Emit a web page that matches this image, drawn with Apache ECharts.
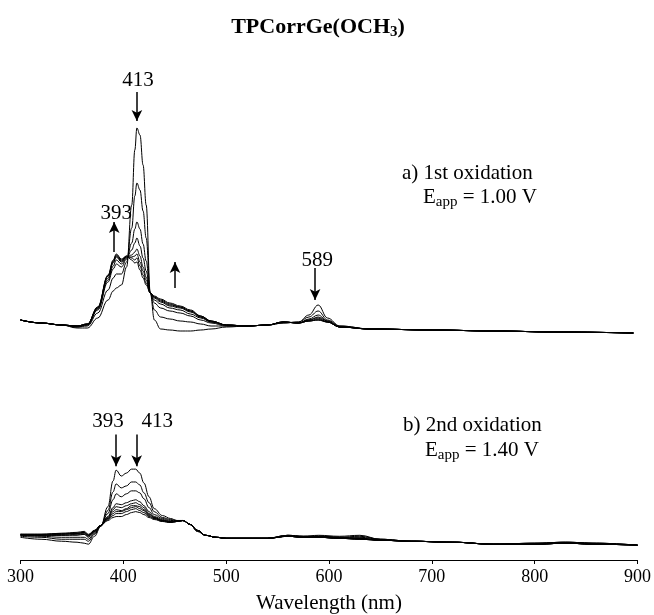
<!DOCTYPE html>
<html lang="en">
<head>
<meta charset="UTF-8">
<title>TPCorrGe(OCH3)</title>
<script src="https://cdn.jsdelivr.net/npm/echarts@6/dist/echarts.min.js"></script>
<style>
  *{margin:0;padding:0;}
  body{background:#fff;}
  #chart{width:654px;height:615px;}
</style>
</head>
<body>
<div id="chart"></div>
<script type="text/javascript">
// wavelengths (nm) sampled for the 1st oxidation spectra
var waveA = [300,320,340,355,365,375,385,390,393,398,403,408,411,413,416,419,422,426,430,436,445,455,465,475,485,500,520,540,555,570,580,589,598,610,640,700,760,820,895];
// a) 1st oxidation, first (neutral) to last spectrum
var a0 = [.15,.12,.10,.07,.07,.17,.35,.44,.47,.50,.68,1.30,1.85,2.07,2.00,1.70,1.30,.42,.15,.06,.05,.04,.04,.05,.06,.08,.09,.10,.12,.13,.20,.30,.17,.09,.06,.05,.04,.03,.02];
var a1 = [.15,.12,.10,.08,.09,.22,.45,.57,.61,.61,.73,1.07,1.39,1.52,1.45,1.24,.97,.42,.25,.18,.16,.14,.13,.11,.09,.09,.09,.10,.12,.13,.18,.24,.15,.09,.06,.05,.04,.03,.02];
var a2 = [.15,.12,.10,.08,.10,.25,.53,.66,.71,.68,.76,.92,1.06,1.13,1.06,.91,.74,.42,.32,.27,.24,.22,.19,.15,.12,.09,.09,.10,.13,.12,.16,.20,.14,.08,.06,.05,.04,.03,.02];
var a3 = [.15,.12,.10,.09,.10,.26,.55,.69,.75,.71,.77,.85,.92,.97,.89,.77,.64,.42,.35,.31,.27,.25,.21,.17,.13,.10,.09,.10,.13,.12,.15,.18,.14,.08,.06,.05,.04,.03,.02];
var a4 = [.15,.12,.10,.09,.11,.27,.57,.72,.78,.73,.78,.80,.83,.86,.79,.68,.58,.42,.37,.33,.29,.27,.23,.18,.13,.10,.09,.10,.13,.12,.15,.17,.13,.08,.06,.05,.04,.03,.02];
var a5 = [.15,.12,.10,.09,.11,.27,.59,.73,.79,.74,.78,.78,.79,.81,.73,.64,.55,.42,.38,.34,.30,.28,.24,.18,.14,.10,.09,.10,.13,.12,.14,.16,.13,.08,.06,.05,.04,.03,.02];
var a6 = [.15,.12,.10,.09,.11,.28,.59,.74,.80,.75,.79,.77,.75,.77,.69,.60,.52,.42,.38,.35,.31,.28,.24,.19,.14,.10,.09,.10,.13,.12,.14,.15,.13,.08,.06,.05,.04,.03,.02];
var a7 = [.15,.12,.10,.09,.11,.28,.60,.75,.81,.76,.79,.75,.72,.73,.65,.57,.50,.42,.39,.36,.32,.29,.25,.19,.14,.10,.09,.10,.13,.12,.14,.15,.13,.08,.06,.05,.04,.03,.02];

// wavelengths (nm) sampled for the 2nd oxidation spectra
var waveB = [300,320,340,355,362,366,372,378,385,390,393,398,403,408,412,416,420,425,430,438,446,452,458,465,472,480,490,500,520,540,560,575,590,610,630,650,680,720,760,800,830,860,900];
// b) 2nd oxidation, first to last spectrum
var b0 = [.23,.21,.19,.18,.17,.16,.24,.34,.54,.80,.91,.85,.88,.92,.92,.88,.78,.64,.52,.45,.42,.40,.40,.36,.29,.25,.23,.22,.22,.22,.25,.24,.25,.24,.25,.21,.19,.18,.16,.17,.18,.17,.15];
var b1 = [.24,.23,.21,.21,.21,.19,.26,.34,.50,.69,.77,.73,.75,.79,.79,.76,.68,.58,.49,.43,.41,.40,.40,.36,.29,.25,.23,.22,.22,.22,.25,.24,.24,.23,.24,.21,.19,.18,.16,.17,.18,.17,.15];
var b2 = [.25,.24,.23,.23,.23,.21,.27,.35,.47,.61,.67,.64,.67,.70,.70,.68,.62,.53,.46,.42,.40,.40,.40,.36,.30,.25,.23,.22,.22,.22,.25,.24,.24,.23,.23,.21,.19,.18,.16,.17,.18,.17,.15];
var b3 = [.25,.25,.25,.25,.26,.23,.28,.35,.44,.53,.57,.56,.58,.60,.61,.59,.55,.49,.44,.41,.39,.39,.40,.36,.30,.25,.23,.22,.22,.22,.24,.23,.24,.23,.22,.20,.19,.18,.16,.16,.17,.16,.15];
var b4 = [.25,.25,.25,.26,.26,.24,.29,.35,.43,.51,.54,.53,.55,.57,.58,.56,.53,.47,.43,.40,.39,.39,.40,.36,.30,.25,.23,.22,.22,.22,.24,.23,.23,.22,.22,.20,.19,.18,.16,.16,.17,.16,.15];
var b5 = [.26,.25,.26,.27,.27,.25,.29,.35,.42,.49,.51,.50,.52,.55,.55,.54,.51,.46,.43,.40,.39,.39,.40,.36,.30,.25,.23,.22,.22,.22,.24,.23,.23,.22,.22,.20,.19,.18,.16,.16,.17,.16,.15];
var b6 = [.26,.26,.26,.27,.28,.25,.29,.35,.42,.47,.49,.49,.51,.53,.54,.52,.50,.45,.42,.40,.38,.39,.40,.36,.30,.25,.23,.22,.22,.22,.24,.23,.23,.22,.21,.20,.19,.18,.16,.16,.17,.16,.15];
var b7 = [.26,.26,.27,.27,.28,.25,.30,.35,.41,.45,.47,.47,.49,.51,.52,.50,.48,.44,.42,.39,.38,.39,.40,.36,.30,.25,.23,.22,.22,.22,.24,.23,.23,.22,.21,.20,.19,.18,.16,.16,.17,.16,.15];
var b8 = [.26,.26,.27,.28,.29,.26,.30,.35,.40,.43,.44,.44,.46,.48,.49,.48,.46,.43,.41,.39,.38,.39,.40,.36,.30,.25,.23,.22,.22,.22,.24,.23,.23,.22,.21,.20,.19,.18,.16,.16,.17,.16,.15];

var xTicks = [300,400,500,600,700,800,900];

var serif = '"Liberation Serif", "DejaVu Serif", serif';

function pairs(xs, ys){
    var out = [];
    for (var i = 0; i < xs.length; i++) { out.push([xs[i], ys[i]]); }
    return out;
}

// arrows and peak labels, in data units of each panel
var arrowsA = [[[413,2.43],[413,2.14]], [[391,0.83],[391,1.13]], [[450,0.47],[450,0.73]], [[586,0.67],[586,0.35]]];
var labelsA = [['413',414,2.55], ['393',393,1.22], ['589',588,0.75]];
var arrowsB = [[[393,1.27],[393,0.95]], [[413,1.27],[413,0.95]]];
var labelsB = [['393',385,1.40], ['413',433,1.40]];

function markers(arrows, labels){
    return {
        markLine: {
            silent: true,
            symbol: ['none','arrow'],
            symbolSize: [8, 11],
            label: {show: false},
            lineStyle: {color:'#000', width:1.5, type:'solid'},
            data: arrows.map(function(a){ return [{coord:a[0]}, {coord:a[1]}]; })
        },
        markPoint: {
            silent: true,
            symbol: 'circle',
            symbolSize: 1,
            itemStyle: {color:'rgba(0,0,0,0)'},
            label: {show:true, position:'inside', formatter:'{b}', color:'#000', fontFamily:serif, fontSize:21},
            data: labels.map(function(l){ return {name:l[0], coord:[l[1], l[2]]}; })
        }
    };
}

var series = [];
[a0,a1,a2,a3,a4,a5,a6,a7].forEach(function(c, i){
    var s = {type:'line', xAxisIndex:0, yAxisIndex:0, data:pairs(waveA, c),
        symbol:'none', smooth:0.4, smoothMonotone:'x', silent:true,
        lineStyle:{color:'#000', width:1}};
    if (i === 0) { var m = markers(arrowsA, labelsA); s.markLine = m.markLine; s.markPoint = m.markPoint; }
    series.push(s);
});
[b0,b1,b2,b3,b4,b5,b6,b7,b8].forEach(function(c, i){
    var s = {type:'line', xAxisIndex:1, yAxisIndex:1, data:pairs(waveB, c),
        symbol:'none', smooth:0.4, smoothMonotone:'x', silent:true,
        lineStyle:{color:'#000', width:1}};
    if (i === 0) { var m = markers(arrowsB, labelsB); s.markLine = m.markLine; s.markPoint = m.markPoint; }
    series.push(s);
});

var sub = {fontSize:15, fontFamily:serif, fill:'#000', padding:[11,0,0,0]};

var myChart = echarts.init(document.getElementById('chart'));
var option = {
    animation: false,
    backgroundColor: '#fff',
    grid: [
        {left:20.5, right:15.5, top:60, height:275},
        {left:20.5, right:15.5, top:400, height:162}
    ],
    xAxis: [
        {gridIndex:0, type:'value', min:300, max:900, interval:100, show:false},
        {gridIndex:1, type:'value', min:300, max:900, interval:100,
         name:'Wavelength (nm)', nameLocation:'middle', nameGap:33,
         nameTextStyle:{color:'#000', fontFamily:serif, fontSize:21},
         axisLine:{lineStyle:{color:'#000', width:1}},
         axisTick:{length:4, lineStyle:{color:'#000'}},
         splitLine:{show:false},
         axisLabel:{color:'#000', fontFamily:serif, fontSize:18, margin:8,
            formatter:function(v){ return xTicks.indexOf(v) >= 0 ? String(v) : ''; }}}
    ],
    yAxis: [
        {gridIndex:0, type:'value', min:0, max:2.75, show:false},
        {gridIndex:1, type:'value', min:0, max:1.62, show:false}
    ],
    graphic: [
        {type:'text', x:318, y:27, style:{
            text:'{b|TPCorrGe(OCH}{s|3}{b|)}', align:'center', verticalAlign:'middle',
            rich:{
                b:{fontSize:22, fontWeight:'bold', fontFamily:serif, fill:'#000'},
                s:{fontSize:15, fontWeight:'bold', fontFamily:serif, fill:'#000', padding:[11,0,0,0]}
            }}},
        {type:'text', x:402, y:173, style:{text:'a) 1st oxidation', fontSize:21, fontFamily:serif, fill:'#000', align:'left', verticalAlign:'middle'}},
        {type:'text', x:423, y:197, style:{text:'E{s|app} = 1.00 V', fontSize:21, fontFamily:serif, fill:'#000', align:'left', verticalAlign:'middle', rich:{s:sub}}},
        {type:'text', x:403, y:425, style:{text:'b) 2nd oxidation', fontSize:21, fontFamily:serif, fill:'#000', align:'left', verticalAlign:'middle'}},
        {type:'text', x:425, y:450, style:{text:'E{s|app} = 1.40 V', fontSize:21, fontFamily:serif, fill:'#000', align:'left', verticalAlign:'middle', rich:{s:sub}}}
    ],
    series: series
};
myChart.setOption(option);
</script>
</body>
</html>
